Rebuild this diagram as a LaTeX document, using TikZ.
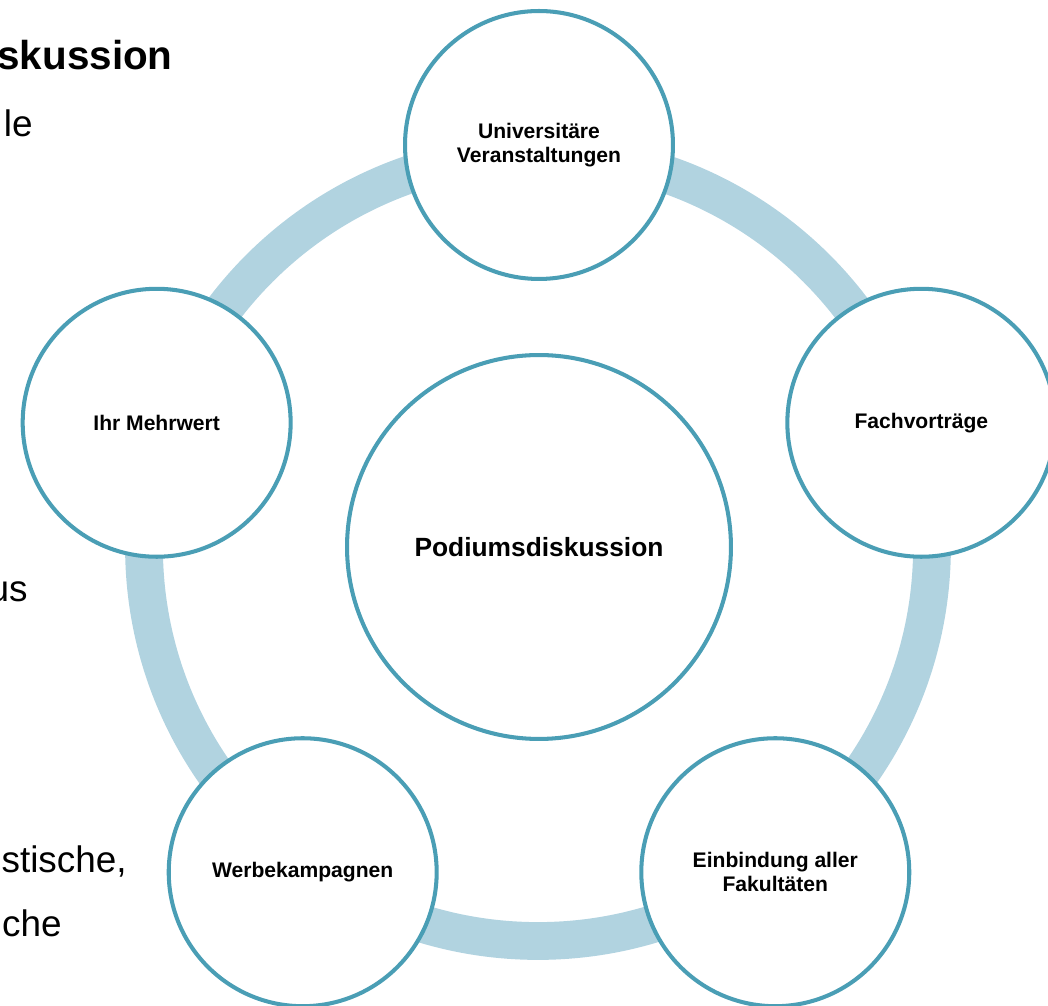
\documentclass[tikz,border=0pt]{standalone}
\usepackage{fontspec}
\setmainfont{Liberation Sans}
\definecolor{ringblue}{RGB}{177,211,224}
\definecolor{rimteal}{RGB}{74,158,181}
\begin{document}
\begin{tikzpicture}[x=0.02cm,y=0.02cm]
\tikzstyle{every node}+=[inner sep=0pt]
\tikzstyle{topic}=[circle,draw=rimteal,line width=2.3pt,fill=white,minimum size=5.36cm,
  align=center,font=\fontsize{12}{13.6}\selectfont\bfseries]
\useasboundingbox (-539,-459) rectangle (509,547);
\draw [ringblue,line width=21.5pt] (-1,0) circle (394);
\node [topic,minimum size=7.68cm,font=\fontsize{15}{17}\selectfont\bfseries] (podium) at (0,0) {Podiumsdiskussion};
\node [topic] (uni) at (90:402) {Universitäre\\Veranstaltungen};
\node [topic] (fach) at (18:402) {Fachvorträge};
\node [topic] (fak) at (-54:402) {Einbindung aller\\Fakultäten};
\node [topic] (werbe) at (234:402) {Werbekampagnen};
\node [topic] (mehr) at (162:402) {Ihr Mehrwert};
\node [anchor=base east,font=\fontsize{23}{27}\selectfont\bfseries] (t1) at (-366,477) {skussion};
\node [anchor=base east,font=\fontsize{21}{25}\selectfont] (t2) at (-506,410) {le};
\node [anchor=base east,font=\fontsize{21}{25}\selectfont] (t3) at (-511,-55) {us};
\node [anchor=base east,font=\fontsize{21}{25}\selectfont] (t4) at (-412,-326) {stische,};
\node [anchor=base east,font=\fontsize{21}{25}\selectfont] (t5) at (-477,-390) {che};
\end{tikzpicture}
\end{document}
